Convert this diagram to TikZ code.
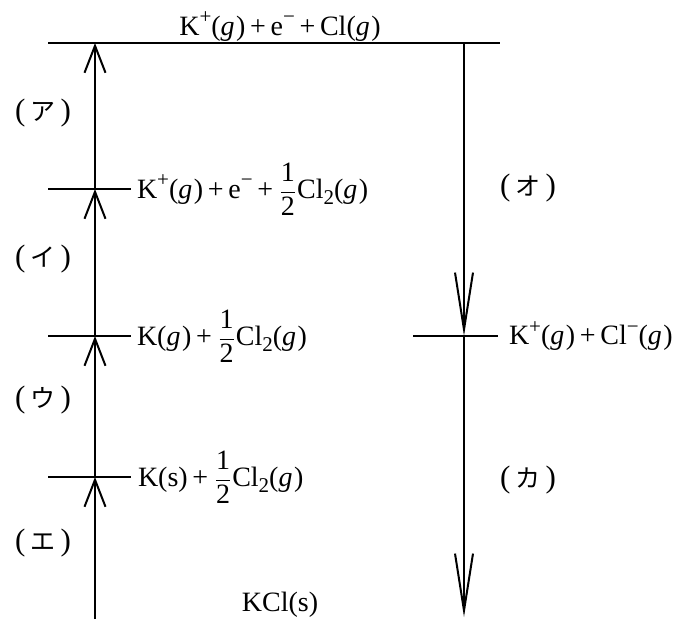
\documentclass[tikz,border=0pt]{standalone}
\usepackage{fontspec}
\setmainfont{Liberation Serif}
\newfontfamily\jpfont{Noto Sans CJK JP}
\usetikzlibrary{arrows.meta}
\newcommand\gsym{\textit{g}\kern1.5pt}
\newcommand\sups[1]{\raisebox{0.42em}{\fontsize{21}{21}\selectfont #1}}
\newcommand\subs[1]{\raisebox{-0.22em}{\fontsize{21}{21}\selectfont #1}}
\newcommand\halfc{\kern2pt$\displaystyle\frac{\mbox{1}}{\mbox{2}}$\kern1pt}
\newcommand\jl[1]{{\fontsize{31}{31}\selectfont(}\hspace{5pt}{\jpfont\fontsize{25}{25}\selectfont #1}\hspace{5pt}{\fontsize{31}{31}\selectfont)}}
\begin{document}
\begin{tikzpicture}[x=1pt,y=-1pt,line width=2pt,
  lvl/.style={font=\fontsize{28}{32}\selectfont,inner sep=0pt},
  jlabel/.style={inner sep=0pt},
  upar/.style={-{Straight Barb[length=27pt,width=21pt]}},
  dnar/.style={-{Straight Barb[length=57pt,width=18pt]}}]
\useasboundingbox (0,0) rectangle (687,619);
% level points
\coordinate (Lb) at (95,619);
\coordinate (L4) at (95,477);
\coordinate (L3) at (95,336);
\coordinate (L2) at (95,189);
\coordinate (L1) at (95,43);
\coordinate (R1) at (464,43);
\coordinate (R2) at (464,336);
\coordinate (Rb) at (464,617);
% level lines
\coordinate (T0) at (48,43);   \coordinate (T1) at (500,43);
\coordinate (A0) at (48,189);  \coordinate (A1) at (131,189);
\coordinate (B0) at (48,336);  \coordinate (B1) at (131,336);
\coordinate (C0) at (48,477);  \coordinate (C1) at (131,477);
\coordinate (D0) at (413,336); \coordinate (D1) at (498,336);
\draw (T0) -- (T1);
\draw (A0) -- (A1);
\draw (B0) -- (B1);
\draw (C0) -- (C1);
\draw (D0) -- (D1);
% arrows
\draw[upar] (Lb) -- (L4);
\draw[upar] (L4) -- (L3);
\draw[upar] (L3) -- (L2);
\draw[upar] (L2) -- (L1);
\draw[dnar] (R1) -- (R2);
\draw[dnar] (R2) -- (Rb);
% labels
\node[lvl,anchor=south] (top) at (280,42) {K\sups{+}(\gsym)\,+\,e\sups{−}\,+\,Cl(\gsym)};
\node[lvl,anchor=west] (s2) at (136,189) {K\sups{+}(\gsym)\,+\,e\sups{−}\,+\,\halfc Cl\subs{2}(\gsym)};
\node[lvl,anchor=west] (s3) at (136,336) {K(\gsym)\,+\,\halfc Cl\subs{2}(\gsym)};
\node[lvl,anchor=west] (s4) at (137,477) {K(s)\,+\,\halfc Cl\subs{2}(\gsym)};
\node[lvl,anchor=west] (sr) at (508,336) {K\sups{+}(\gsym)\,+\,Cl\sups{−}(\gsym)};
\node[lvl,anchor=south] (kcl) at (280,618) {KCl(s)};
\node[jlabel] (ja) at (43,113) {\jl{ア}};
\node[jlabel] (ji) at (43,259) {\jl{イ}};
\node[jlabel] (ju) at (43,400) {\jl{ウ}};
\node[jlabel] (je) at (43,543) {\jl{エ}};
\node[jlabel] (jo) at (528,188) {\jl{オ}};
\node[jlabel] (jk) at (528,480) {\jl{カ}};
\end{tikzpicture}
\end{document}
